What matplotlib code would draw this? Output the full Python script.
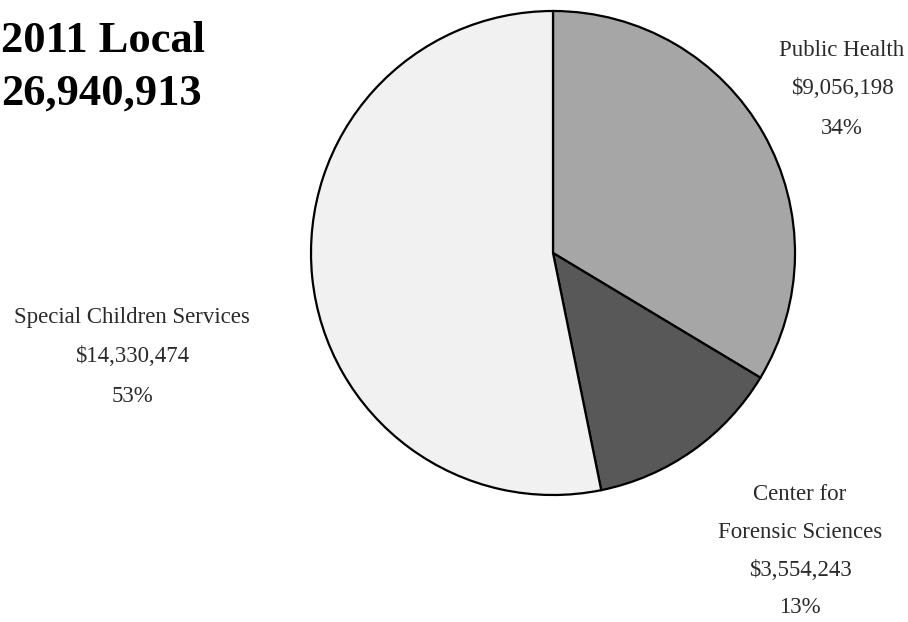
import matplotlib.pyplot as plt
import numpy as np

# data
categories = ['Public Health', 'Center for\nForensic Sciences', 'Special Children Services']
amounts = [9056198, 3554243, 14330474]
percent_labels = ['34%', '13%', '53%']
colors = ['#a6a6a6', '#585858', '#f1f1f1']
title_lines = ['2011 Local', '26,940,913']

W, H = 908, 622
fig = plt.figure(figsize=(W / 100, H / 100), dpi=100)
ax = fig.add_axes([0, 0, 1, 1])

ax.pie(amounts, colors=colors, startangle=90, counterclock=False,
       center=(553, H - 253), radius=242, frame=True,
       wedgeprops=dict(edgecolor='black', linewidth=1.6))
ax.set_xlim(0, W)
ax.set_ylim(0, H)
ax.set_aspect('equal')
ax.axis('off')

def money(v):
    return '${:,}'.format(v)

lab_font = dict(family='Liberation Serif', fontsize=16.5, color='#2a2a2a',
                ha='center', va='center')

# label positions (pixel coords, y from top) and line spacing
lab_pos = [(842, 50), (800, 495), (132, 318)]
steps = [39, 37.5, 39]
for cat, amt, pct, (x, y), step in zip(categories, amounts, percent_labels, lab_pos, steps):
    lines = cat.split('\n') + [money(amt), pct]
    for i, line in enumerate(lines):
        ax.text(x, H - (y + i * step), line, **lab_font)

# title
ax.text(1, H - 41, title_lines[0], family='Liberation Serif', fontweight='bold',
        fontsize=32, ha='left', va='center', color='black')
ax.text(1, H - 94, title_lines[1], family='Liberation Serif', fontweight='bold',
        fontsize=32, ha='left', va='center', color='black')

fig.savefig('out.png', dpi=100)
